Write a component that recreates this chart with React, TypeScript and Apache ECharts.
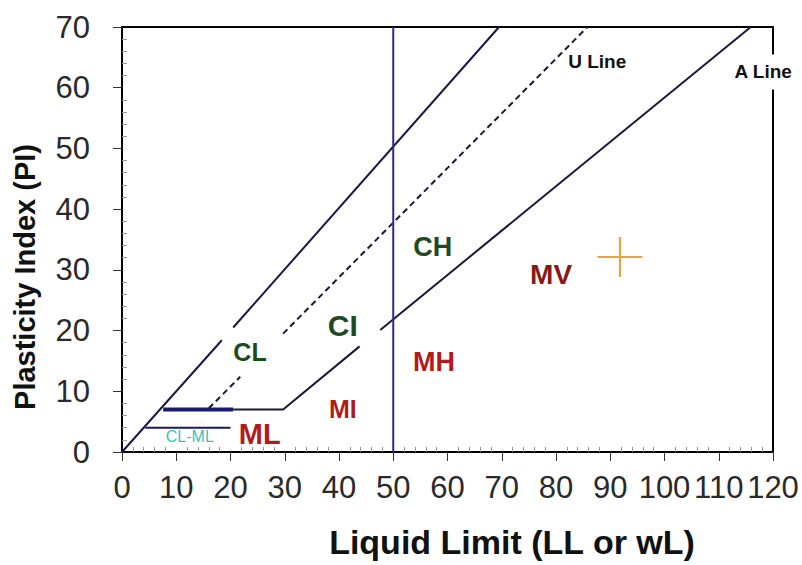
import React, { useEffect, useRef } from "react";
import * as echarts from "echarts";

// ---- data ----
const xMin = 0;
const xMax = 120;
const yMin = 0;
const yMax = 70;
const tickStep = 10;

const upperLineA = [[0, 0], [18.4, 18.4]];
const upperLineB = [[20.5, 20.5], [69.5, 70]];
const uLineA = [[16, 7.2], [21.8, 12.4]];
const uLineB = [[29.7, 19.5], [85.8, 70]];
const clMlTop = [[7.6, 7], [20.5, 7]];
const aLineA = [[20.5, 7], [29.7, 7], [43.8, 17.4]];
const aLineB = [[47.6, 20.1], [115.9, 70]];
const clMlBottom = [[4.3, 4], [20, 4]];
const llDivider = [[50, 0], [50, 70]];
const samplePoint = [[91.8, 32.1]];

const zoneNames = ["CL", "CI", "CH", "MV", "MH", "MI", "ML", "CL-ML", "U Line", "A Line"];
const zoneX = [23.6, 40.7, 57.3, 79.1, 57.5, 40.7, 25.4, 12.5, 87.6, 118.2];
const zoneY = [16.5, 20.8, 33.8, 29.2, 14.8, 7.1, 3.0, 2.5, 64.3, 62.6];

const xAxisTitle = "Liquid Limit (LL or wL)";
const yAxisTitle = "Plasticity Index (PI)";

// ---- styles ----
const GREEN = "#1d4a20";
const RED = "#b01c1c";
const zoneStyles: Record<string, any> = {
  CL: { color: GREEN, fontSize: 25 },
  CI: { color: GREEN, fontSize: 30 },
  CH: { color: GREEN, fontSize: 27 },
  MV: { color: "#8a1818", fontSize: 28 },
  MH: { color: RED, fontSize: 27 },
  MI: { color: RED, fontSize: 25 },
  ML: { color: RED, fontSize: 29 },
  "CL-ML": { color: "#3fbfbf", fontSize: 16, fontWeight: "normal" },
  "U Line": { color: "#111", fontSize: 19 },
  "A Line": { color: "#111", fontSize: 19, backgroundColor: "#fff", padding: [8, 2] },
};

const FONT = "Liberation Sans, Arial, sans-serif";

function lineSeries(data: number[][], color: string, width: number, type: any = "solid") {
  return {
    type: "line",
    data,
    symbol: "none",
    showSymbol: false,
    silent: true,
    lineStyle: { color, width, type },
    z: 3,
  };
}

export default function App() {
  const ref = useRef<HTMLDivElement>(null);

  useEffect(() => {
    if (!ref.current) return;
    const chart = echarts.init(ref.current, null, { renderer: "svg" });

    const labelData = zoneNames.map((n, i) => {
      const s = zoneStyles[n] || {};
      return {
        name: n,
        value: [zoneX[i], zoneY[i]],
        label: {
          show: true,
          position: "inside",
          formatter: n,
          fontFamily: FONT,
          fontWeight: s.fontWeight || "bold",
          ...s,
        },
      };
    });

    const axisCommon = {
      type: "value",
      splitLine: { show: false },
    };

    chart.setOption({
      animation: false,
      backgroundColor: "#fff",
      grid: {
        left: 122,
        right: 29,
        top: 27,
        bottom: 113,
        show: true,
        borderColor: "#000",
        borderWidth: 2,
        backgroundColor: "transparent",
      },
      xAxis: [
        {
          ...axisCommon,
          position: "bottom",
          min: xMin,
          max: xMax,
          interval: tickStep,
          axisLine: { show: true, lineStyle: { color: "#000", width: 2 } },
          axisTick: { show: true, length: 9, lineStyle: { color: "#333", width: 1 } },
          axisLabel: {
            show: true,
            interval: 0,
            margin: 20,
            color: "#2a2a2a",
            fontSize: 31,
            fontFamily: FONT,
          },
        },
        {
          ...axisCommon,
          position: "bottom",
          min: xMin,
          max: xMax,
          interval: tickStep,
          axisLine: { show: false },
          axisTick: { show: false, inside: true },
          axisLabel: { show: false },
          minorTick: { show: true, splitNumber: 5, length: 5, lineStyle: { color: "#999", width: 1 } },
        },
      ],
      yAxis: [
        {
          ...axisCommon,
          position: "left",
          min: yMin,
          max: yMax,
          interval: tickStep,
          axisLine: { show: true, lineStyle: { color: "#000", width: 2 } },
          axisTick: { show: true, length: 9, lineStyle: { color: "#333", width: 1 } },
          axisLabel: {
            show: true,
            margin: 32,
            color: "#2a2a2a",
            fontSize: 31,
            fontFamily: FONT,
          },
        },
        {
          ...axisCommon,
          position: "left",
          min: yMin,
          max: yMax,
          interval: tickStep,
          axisLine: { show: false },
          axisTick: { show: false, inside: true },
          axisLabel: { show: false },
          minorTick: { show: true, splitNumber: 5, length: 5, lineStyle: { color: "#999", width: 1 } },
        },
      ],
      graphic: [
        {
          type: "text",
          x: 512,
          y: 542,
          style: {
            text: xAxisTitle,
            fontSize: 34,
            fontWeight: "bold",
            fontFamily: FONT,
            fill: "#111",
            align: "center",
            verticalAlign: "middle",
          },
        },
        {
          type: "text",
          x: 25,
          y: 277,
          rotation: Math.PI / 2,
          style: {
            text: yAxisTitle,
            fontSize: 29,
            fontWeight: "bold",
            fontFamily: FONT,
            fill: "#111",
            align: "center",
            verticalAlign: "middle",
          },
        },
      ],
      series: [
        lineSeries(upperLineA, "#18184a", 2),
        lineSeries(upperLineB, "#18184a", 2),
        lineSeries(uLineA, "#18183a", 2, [6, 4]),
        lineSeries(uLineB, "#18183a", 2, [6, 4]),
        lineSeries(clMlTop, "#1a1a6e", 4),
        lineSeries(aLineA, "#18183a", 2),
        lineSeries(aLineB, "#18183a", 2),
        lineSeries(clMlBottom, "#1a1a5a", 2),
        lineSeries(llDivider, "#2a2a8c", 2),
        {
          type: "scatter",
          data: samplePoint,
          symbol: "path://M19,0h2v40h-2z M0,19h40v2h-40z",
          symbolSize: [45, 40],
          itemStyle: { color: "#e2a34a", opacity: 1 },
          silent: true,
          z: 4,
        },
        {
          type: "scatter",
          data: labelData,
          symbolSize: 0,
          itemStyle: { opacity: 1 },
          silent: true,
          clip: false,
          z: 5,
        },
      ],
    });

    return () => chart.dispose();
  }, []);

  return (
    <div
      ref={ref}
      style={{ position: "absolute", left: 0, top: 0, width: 802, height: 565 }}
    />
  );
}
